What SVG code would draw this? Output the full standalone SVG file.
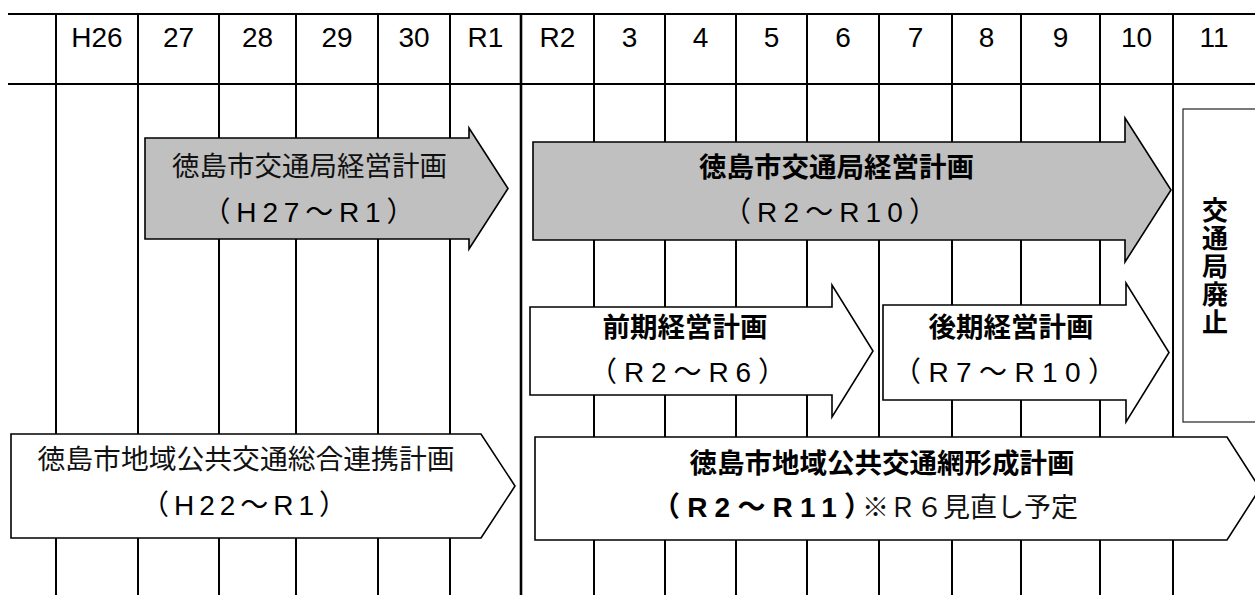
<svg xmlns="http://www.w3.org/2000/svg" width="1255" height="595" viewBox="0 0 1255 595">
<style>
.grid line{stroke:#000;stroke-width:2}
.hdr{font-family:"Liberation Sans",Arial,sans-serif;font-size:28px;fill:#000;text-anchor:middle}
.jp{font-family:"Noto Sans CJK JP","Noto Sans CJK SC",sans-serif;fill:#111;text-anchor:middle}
.l1{font-size:27.5px}
.l2{font-family:"Liberation Sans","Noto Sans CJK JP",sans-serif;font-size:28px;fill:#000;text-anchor:middle}
.b{font-weight:bold;fill:#000}
.gray{fill:#c0c0c0;stroke:#000;stroke-width:1.6}
.white{fill:#fff;stroke:#000;stroke-width:1.6}
</style>
<rect width="1255" height="595" fill="#fff"/>
<g id="grid" class="grid">
<line x1="8" y1="14" x2="1255" y2="14"/>
<line x1="8" y1="84" x2="1255" y2="84"/>
<line x1="56" y1="14" x2="56" y2="595"/>
<line x1="138" y1="14" x2="138" y2="595"/>
<line x1="219" y1="14" x2="219" y2="595"/>
<line x1="296" y1="14" x2="296" y2="595"/>
<line x1="378" y1="14" x2="378" y2="595"/>
<line x1="450" y1="14" x2="450" y2="595"/>
<line x1="521" y1="14" x2="521" y2="595" style="stroke-width:2.6"/>
<line x1="594" y1="14" x2="594" y2="595"/>
<line x1="665" y1="14" x2="665" y2="595"/>
<line x1="736" y1="14" x2="736" y2="595"/>
<line x1="807" y1="14" x2="807" y2="595"/>
<line x1="879" y1="14" x2="879" y2="595"/>
<line x1="952" y1="14" x2="952" y2="595"/>
<line x1="1021" y1="14" x2="1021" y2="595"/>
<line x1="1100" y1="14" x2="1100" y2="595"/>
<line x1="1173" y1="14" x2="1173" y2="595"/>
</g>
<g id="header">
<text class="hdr" x="97" y="47">H26</text>
<text class="hdr" x="178.5" y="47">27</text>
<text class="hdr" x="257.5" y="47">28</text>
<text class="hdr" x="337" y="47">29</text>
<text class="hdr" x="414" y="47">30</text>
<text class="hdr" x="485.5" y="47">R1</text>
<text class="hdr" x="557.5" y="47">R2</text>
<text class="hdr" x="629.5" y="47">3</text>
<text class="hdr" x="700.5" y="47">4</text>
<text class="hdr" x="771.5" y="47">5</text>
<text class="hdr" x="843" y="47">6</text>
<text class="hdr" x="915.5" y="47">7</text>
<text class="hdr" x="986.5" y="47">8</text>
<text class="hdr" x="1060.5" y="47">9</text>
<text class="hdr" x="1136.5" y="47">10</text>
<text class="hdr" x="1214" y="47">11</text>
</g>
<g id="plan-h27-r1">
<polygon class="gray" points="145,138 469,138 469,128 508,188.5 469,249 469,239 145,239"/>
<text class="jp l1" x="309.5" y="176">徳島市交通局経営計画</text>
<text class="l2" x="308.5" y="222" textLength="212" lengthAdjust="spacing">（H27～R1）</text>
</g>
<g id="plan-r2-r10">
<polygon class="gray" points="533,142 1125,142 1125,118 1171,190 1125,262 1125,240 533,240"/>
<text class="jp l1 b" x="836.5" y="177">徳島市交通局経営計画</text>
<text class="l2" x="830" y="222" textLength="214" lengthAdjust="spacing">（R2～R10）</text>
</g>
<g id="zenki">
<polygon class="white" points="530,307 832,307 832,285 873,351 832,417 832,395 530,395"/>
<text class="jp l1 b" x="685" y="337">前期経営計画</text>
<text class="l2" x="687.5" y="382" textLength="197" lengthAdjust="spacing">（R2～R6）</text>
</g>
<g id="kouki">
<polygon class="white" points="883,305 1126,305 1126,283 1169,352.5 1126,422 1126,400 883,400"/>
<text class="jp l1 b" x="1011" y="337">後期経営計画</text>
<text class="l2" x="1004.5" y="382" textLength="223" lengthAdjust="spacing">（R7～R10）</text>
</g>
<g id="haishi">
<rect x="1183" y="109" width="90" height="313" fill="#fff" stroke="#222" stroke-width="1.2"/>
<text class="jp b" font-size="26" x="1215" y="197" writing-mode="vertical-rl" letter-spacing="2" style="text-anchor:start">交通局廃止</text>
</g>
<g id="renkei">
<polygon class="white" points="11,434 481,434 515,486 481,538 11,538"/>
<text class="jp" font-size="27.8" x="246" y="469">徳島市地域公共交通総合連携計画</text>
<text class="l2" x="244" y="515" textLength="206" lengthAdjust="spacing">（H22～R1）</text>
</g>
<g id="mokei">
<polygon class="white" points="535,437 1227,437 1260,488.5 1227,540 535,540"/>
<text class="jp l1 b" x="882" y="473">徳島市地域公共交通網形成計画</text>
<text class="l2 b" x="762" y="517" textLength="220" lengthAdjust="spacing">（R2～R11）</text>
<text class="jp" font-size="27" x="862" y="517" style="text-anchor:start">※Ｒ６見直し予定</text>
</g>
<g id="connectors"/>
</svg>
